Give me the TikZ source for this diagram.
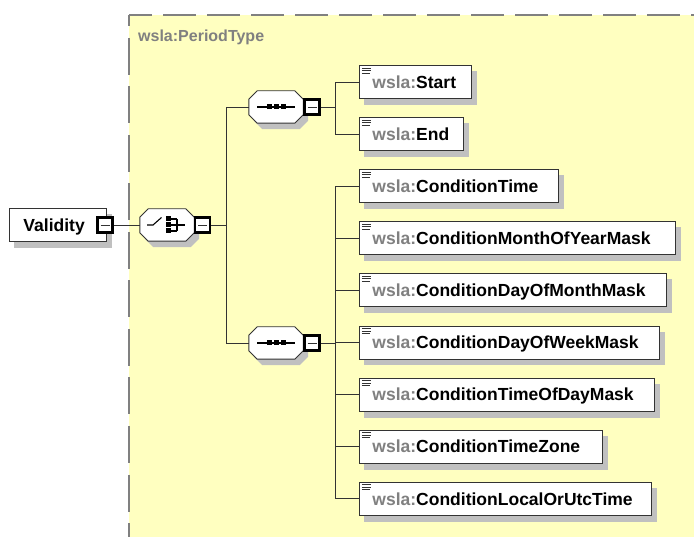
\documentclass[tikz,border=0pt]{standalone}
\usepackage{fontspec}
\setmainfont{Liberation Sans}

\definecolor{paneyellow}{RGB}{255,255,192}
\definecolor{shadowgray}{RGB}{192,192,192}
\definecolor{nsgray}{RGB}{128,128,128}
\definecolor{edgegray}{RGB}{128,128,128}
\definecolor{linedark}{RGB}{51,51,51}

\pgfdeclarelayer{pane}
\pgfdeclarelayer{shade}
\pgfsetlayers{pane,shade,main}

% octagonal compositor outline around a named rectangular node, offset by (#2,#3)
\newcommand\octpath[3]{([xshift=8.5pt+#2,yshift=#3]#1.north west) -- ([xshift=-8.5pt+#2,yshift=#3]#1.north east) -- ([xshift=#2,yshift=-8.5pt+#3]#1.north east) -- ([xshift=#2,yshift=8.5pt+#3]#1.south east) -- ([xshift=-8.5pt+#2,yshift=#3]#1.south east) -- ([xshift=8.5pt+#2,yshift=#3]#1.south west) -- ([xshift=#2,yshift=8.5pt+#3]#1.south west) -- ([xshift=#2,yshift=-8.5pt+#3]#1.north west) -- cycle}
\newcommand\octagonat[1]{%
  \begin{pgfonlayer}{shade}\fill[shadowgray] \octpath{#1}{5pt}{-6pt};\end{pgfonlayer}
  \filldraw[fill=white, draw=linedark, line width=0.9pt] \octpath{#1}{0pt}{0pt};}

\tikzset{
  elembox/.style={draw=linedark, line width=0.9pt, fill=white, anchor=west,
    minimum height=33pt, inner xsep=13pt, inner ysep=0pt, text height=12.5pt, text depth=0pt,
    align=left, font=\fontsize{17.5}{20}\selectfont\bfseries},
  elem/.style={elembox, text width=#1,
    path picture={
      \foreach \dy/\len in {2.5/9,5/9,7.5/8}
        \draw[linedark, line width=0.8pt] ([shift={(2.5pt,-\dy pt)}]path picture bounding box.north west) -- ++(\len pt,0pt);
    }},
  vbox/.style={elembox, inner xsep=14pt, text width=69pt},
  minusbox/.style={draw=black, line width=2.3pt, fill=white, minimum size=15pt, inner sep=0pt,
    path picture={\draw[linedark, line width=0.9pt] ([xshift=3pt]path picture bounding box.west) -- ([xshift=-3pt]path picture bounding box.east);}},
  octa/.style={rectangle, minimum width=54pt, minimum height=32pt, inner sep=0pt},
  conn/.style={draw=linedark, line width=0.9pt},
  glyph/.style={draw=black, line width=1.1pt},
  sq/.style={fill=black},
}

\begin{document}
\begin{tikzpicture}[x=1pt,y=-1pt]
\useasboundingbox (0,0) rectangle (694,537);

% complex type pane
\begin{pgfonlayer}{pane}
\fill[paneyellow] (129,15) rectangle (694,537);
\draw[edgegray, line width=1.2pt, dash pattern=on 33pt off 11pt, dash phase=10pt] (129,15) -- (694,15);
\draw[edgegray, line width=1.2pt, dash pattern=on 37pt off 11.5pt, dash phase=25.5pt] (129,15) -- (129,537);
\end{pgfonlayer}
\node[anchor=base west, inner sep=0pt, text=nsgray, font=\fontsize{16}{19}\selectfont\bfseries] (ptype) at (138,42) {wsla:PeriodType};

% root element
\node[vbox] (validity) at (9,225) {Validity};
\node[minusbox] (vmin) at (105,225) {};

% choice compositor
\node[octa] (choice) at (167,225) {};
\octagonat{choice}
\node[minusbox] (cmin) at (202.5,225) {};
\begin{scope}[shift={(choice.center)}]
  \draw[glyph] (-20,0) -- (-14,0) -- (-5.5,-7.5);
  \fill[sq] (-1,-8.5) rectangle (3.5,-3.5);
  \fill[sq] (-1,-2.5) rectangle (3.5,2.5);
  \fill[sq] (-1,3.5) rectangle (3.5,8.5);
  \draw[glyph] (3.5,-6) -- (10,-6) (3.5,0) -- (18,0) (3.5,6) -- (10,6) (10,-6) -- (10,6);
\end{scope}

% sequence compositors
\node[octa] (seq1) at (276,107) {};
\octagonat{seq1}
\node[minusbox] (s1min) at (312,107) {};
\node[octa] (seq2) at (276,343) {};
\octagonat{seq2}
\node[minusbox] (s2min) at (312,343) {};
\foreach \s in {seq1,seq2}{
  \begin{scope}[shift={(\s.center)}]
    \draw[glyph] (-19,0) -- (19,0);
    \fill[sq] (-9.5,-2.5) rectangle (-4.5,2.5);
    \fill[sq] (-2.5,-2.5) rectangle (2.5,2.5);
    \fill[sq] (4.5,-2.5) rectangle (9.5,2.5);
  \end{scope}
}

% child elements
\node[elem=86pt]  (start) at (359,82)    {{\color{nsgray}wsla:}Start};
\node[elem=78pt]  (end)   at (359,134.1) {{\color{nsgray}wsla:}End};
\node[elem=173pt] (ctime) at (359,186.2) {{\color{nsgray}wsla:}ConditionTime};
\node[elem=290pt] (cmoy)  at (359,238.3) {{\color{nsgray}wsla:}ConditionMonthOfYearMask};
\node[elem=281pt] (cdom)  at (359,290.4) {{\color{nsgray}wsla:}ConditionDayOfMonthMask};
\node[elem=274pt] (cdow)  at (359,342.5) {{\color{nsgray}wsla:}ConditionDayOfWeekMask};
\node[elem=269pt] (ctod)  at (359,394.6) {{\color{nsgray}wsla:}ConditionTimeOfDayMask};
\node[elem=217pt] (ctz)   at (359,446.7) {{\color{nsgray}wsla:}ConditionTimeZone};
\node[elem=266pt] (clut)  at (359,498.8) {{\color{nsgray}wsla:}ConditionLocalOrUtcTime};

% drop shadows of the element boxes
\begin{pgfonlayer}{shade}
\foreach \n in {validity,start,end,ctime,cmoy,cdom,cdow,ctod,ctz,clut}
  \fill[shadowgray] ([shift={(5pt,-6pt)}]\n.south west) rectangle ([shift={(5pt,-6pt)}]\n.north east);
\end{pgfonlayer}

% connectors
\coordinate (b1) at (226,225);
\coordinate (b2) at (335,107);
\coordinate (b3) at (335,343);
\draw[conn] (vmin.east) -- (choice.west);
\draw[conn] (cmin.east) -- (b1);
\draw[conn] (seq1.west) -- (seq1.west -| b1) -- (seq2.west -| b1) -- (seq2.west);
\draw[conn] (s1min.east) -- (b2);
\draw[conn] (start.west) -- (start.west -| b2) -- (end.west -| b2) -- (end.west);
\draw[conn] (s2min.east) -- (b3);
\draw[conn] (ctime.west -| b3) -- (clut.west -| b3);
\foreach \e in {ctime,cmoy,cdom,cdow,ctod,ctz,clut}
  \draw[conn] (\e.west -| b3) -- (\e.west);
\end{tikzpicture}
\end{document}
